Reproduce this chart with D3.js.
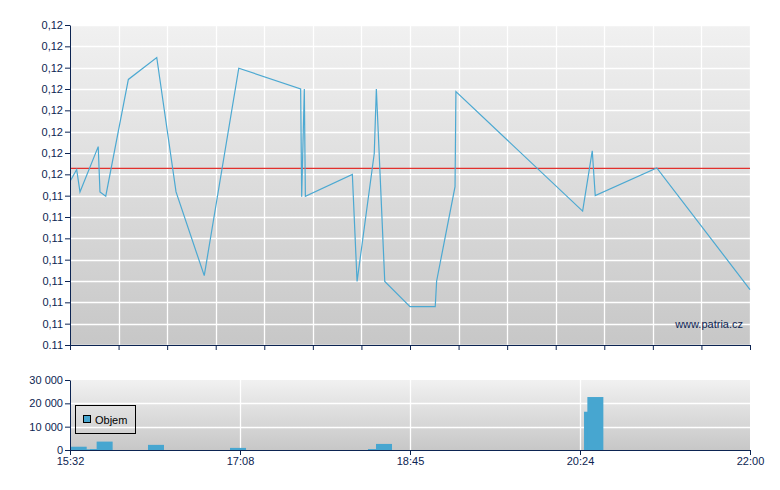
<!DOCTYPE html>
<html>
<head>
<meta charset="utf-8">
<script src="https://cdn.jsdelivr.net/npm/d3@7"></script>
<style>
body { margin: 0; background: #fff; }
svg { display: block; }
</style>
</head>
<body>
<svg id="chart" width="780" height="490"></svg>
<script>
// price series (time of trade, price)
var priceTimes = ["15:32:24", "15:35:48", "15:37:42", "15:48:06", "15:49:06", "15:52:24",
    "16:05:18", "16:21:30", "16:32:30", "16:48:36", "17:08:18", "17:43:36", "17:44:12",
    "17:45:42", "17:46:18", "18:13:06", "18:15:48", "18:25:36", "18:26:48", "18:31:36",
    "18:46:00", "19:00:24", "19:01:12", "19:11:42", "19:12:12", "20:24:30", "20:30:00",
    "20:31:42", "21:06:48", "22:00:00"];
var prices = [0.11509, 0.11529, 0.11487, 0.11572, 0.11487, 0.11479,
    0.11698, 0.11739, 0.11487, 0.11330, 0.11719, 0.11680, 0.11478,
    0.11680, 0.11479, 0.11520, 0.11319, 0.11559, 0.11680, 0.11319,
    0.11272, 0.11272, 0.11320, 0.11497, 0.11675, 0.11451, 0.11564,
    0.11480, 0.11532, 0.11304];
var refPrice = 0.11531;

// volume series
var volTimes = ["15:32:24", "15:40:00", "15:43:24", "15:47:12", "16:16:30", "17:03:18",
    "18:22:00", "18:26:36", "20:25:18", "20:27:12"];
var volumes = [1400, 300, 400, 3600, 2200, 900, 400, 2600, 16400, 22700];

// axes
var yTicks = d3.range(16).map(function(i) { return 0.112 + i * 0.0004; });
var yLabels = ["0.11", "0,11", "0,11", "0,11", "0,11", "0,11", "0,11", "0,11",
    "0,12", "0,12", "0,12", "0,12", "0,12", "0,12", "0,12", "0,12"];
var timeLabels = ["15:32", "17:08", "18:45", "20:24", "22:00"];
var volTicks = [0, 10000, 20000, 30000];

var navy = "#0c2452",
    lineColor = "#4ca9d2",
    barColor = "#47a6d0";

var parseTime = d3.timeParse("%H:%M:%S");
var t0 = parseTime("15:32:00"), t1 = parseTime("22:00:00");

var x = d3.scaleTime().domain([t0, t1]).range([70, 750]);
var y = d3.scaleLinear().domain([0.112, 0.118]).range([345, 25]);
var yv = d3.scaleLinear().domain([0, 30000]).range([450, 380]);

// evenly spaced grid positions
var gridMain = d3.range(15).map(function(i) { return new Date(+t0 + i * (t1 - t0) / 14); });
var gridVol = d3.range(5).map(function(i) { return new Date(+t0 + i * (t1 - t0) / 4); });

var svg = d3.select("#chart");

var grad = svg.append("defs").append("linearGradient")
    .attr("id", "bg").attr("x1", 0).attr("y1", 0).attr("x2", 0).attr("y2", 1);
grad.append("stop").attr("offset", "0%").attr("stop-color", "#f1f1f1");
grad.append("stop").attr("offset", "100%").attr("stop-color", "#c7c7c7");

function styleAxis(g) {
    g.attr("font-family", "'Liberation Sans', Arial, sans-serif").attr("font-size", 11);
    g.selectAll("path, line").attr("stroke", navy);
    g.selectAll("text").attr("fill", navy);
}

// ---- price chart ----
svg.append("rect").attr("x", 70).attr("y", 25).attr("width", 680).attr("height", 320)
    .attr("fill", "url(#bg)");

svg.append("g").selectAll("line").data(yTicks).enter().append("line")
    .attr("x1", 70).attr("x2", 750)
    .attr("y1", function(d) { return Math.round(y(d)) + 0.5; })
    .attr("y2", function(d) { return Math.round(y(d)) + 0.5; })
    .attr("stroke", "#fff").attr("stroke-width", 1.3);

svg.append("g").selectAll("line").data(gridMain.slice(1)).enter().append("line")
    .attr("x1", function(d) { return Math.round(x(d)) + 0.5; })
    .attr("x2", function(d) { return Math.round(x(d)) + 0.5; })
    .attr("y1", 25).attr("y2", 345)
    .attr("stroke", "#fff").attr("stroke-width", 1.3);

svg.append("line").attr("x1", 70).attr("x2", 750)
    .attr("y1", y(refPrice)).attr("y2", y(refPrice))
    .attr("stroke", "#e2312d").attr("stroke-width", 1.3);

var priceData = priceTimes.map(function(t, i) { return {t: parseTime(t), v: prices[i]}; });
svg.append("path").datum(priceData)
    .attr("fill", "none").attr("stroke", lineColor).attr("stroke-width", 1.2)
    .attr("d", d3.line().x(function(d) { return x(d.t); }).y(function(d) { return y(d.v); }));

svg.append("text").attr("x", 743).attr("y", 328).attr("text-anchor", "end")
    .attr("font-family", "'Liberation Sans', Arial, sans-serif").attr("font-size", 11)
    .attr("fill", navy).text("www.patria.cz");

svg.append("g").attr("transform", "translate(70,0)")
    .call(d3.axisLeft(y).tickValues(yTicks)
        .tickFormat(function(d, i) { return yLabels[i]; })
        .tickSize(5).tickSizeOuter(0).tickPadding(2))
    .call(styleAxis);

svg.append("g").attr("transform", "translate(0,345)")
    .call(d3.axisBottom(x).tickValues(gridMain).tickFormat("")
        .tickSize(5).tickSizeOuter(0))
    .call(styleAxis);

// ---- volume chart ----
svg.append("rect").attr("x", 70).attr("y", 380).attr("width", 680).attr("height", 70)
    .attr("fill", "url(#bg)");

svg.append("g").selectAll("line").data(volTicks.slice(1, 3)).enter().append("line")
    .attr("x1", 70).attr("x2", 750)
    .attr("y1", function(d) { return Math.round(yv(d)) + 0.5; })
    .attr("y2", function(d) { return Math.round(yv(d)) + 0.5; })
    .attr("stroke", "#fff").attr("stroke-width", 1.3);

svg.append("g").selectAll("line").data(gridVol.slice(1, 4)).enter().append("line")
    .attr("x1", function(d) { return Math.round(x(d)) + 0.5; })
    .attr("x2", function(d) { return Math.round(x(d)) + 0.5; })
    .attr("y1", 380).attr("y2", 450)
    .attr("stroke", "#fff").attr("stroke-width", 1.3);

var volData = volTimes.map(function(t, i) { return {t: parseTime(t), v: volumes[i]}; });
svg.append("g").selectAll("rect").data(volData).enter().append("rect")
    .attr("x", function(d) { return x(d.t); })
    .attr("width", 16)
    .attr("y", function(d) { return yv(d.v); })
    .attr("height", function(d) { return yv(0) - yv(d.v); })
    .attr("fill", barColor);

var fmtVol = d3.format(",");
svg.append("g").attr("transform", "translate(70,0)")
    .call(d3.axisLeft(yv).tickValues(volTicks)
        .tickFormat(function(d) { return fmtVol(d).replace(/,/g, " "); })
        .tickSize(5).tickSizeOuter(0).tickPadding(2))
    .call(styleAxis);

svg.append("g").attr("transform", "translate(0,450)")
    .call(d3.axisBottom(x).tickValues(gridVol)
        .tickFormat(function(d, i) { return timeLabels[i]; })
        .tickSize(5).tickSizeOuter(0).tickPadding(2))
    .call(styleAxis);

// legend
var legend = svg.append("g").attr("transform", "translate(75,405)");
legend.append("rect").attr("x", 0.5).attr("y", 0.5).attr("width", 60).attr("height", 28)
    .attr("fill", "none").attr("stroke", "#000");
legend.append("rect").attr("x", 8.5).attr("y", 10.5).attr("width", 7).attr("height", 7)
    .attr("fill", barColor).attr("stroke", "#000");
legend.append("text").attr("x", 20).attr("y", 18.5)
    .attr("font-family", "'Liberation Sans', Arial, sans-serif").attr("font-size", 11)
    .attr("fill", "#000").text("Objem");
</script>
</body>
</html>
